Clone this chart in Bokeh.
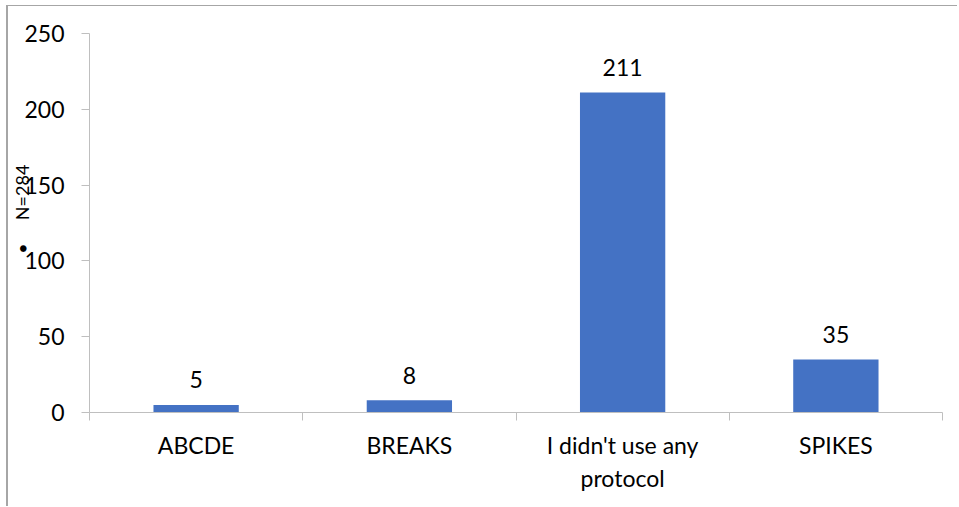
from bokeh.plotting import figure
from bokeh.models import Range1d, FixedTicker
from bokeh.core.properties import value
from bokeh.embed import file_html
from bokeh.resources import INLINE

# Survey responses: which protocol was used (N=284)
categories = ["ABCDE", "BREAKS", "I didn't use any\nprotocol", "SPIKES"]
counts = [5, 8, 211, 35]
y_ticks = [0, 50, 100, 150, 200, 250]
sample_label = "N=284"

FONT = "Lato"
BAR_COLOR = "#4472C4"
AXIS_COLOR = "#BFBFBF"
TEXT_COLOR = "#000000"
NBSP = "\u00a0"

centers = [i + 0.5 for i in range(len(categories))]
bounds = [float(i) for i in range(len(categories) + 1)]

p = figure(
    width=951, height=501,
    x_range=Range1d(0, len(categories)),
    y_range=Range1d(0, 250),
    output_backend="svg",
    toolbar_location=None,
    min_border_left=81, min_border_right=17,
    min_border_top=27, min_border_bottom=95,
)
p.margin = (5, 0, 0, 6)
p.styles = {
    "border-left": "2px solid #A6A6A6",
    "border-top": "1px solid #A6A6A6",
}
p.outline_line_color = None
p.xgrid.grid_line_color = None
p.ygrid.grid_line_color = None
p.background_fill_color = "white"
p.border_fill_color = "white"

p.vbar(x=centers, top=counts, width=0.4, fill_color=BAR_COLOR, line_color=None)

p.text(
    x=centers, y=counts, text=[str(c) for c in counts],
    text_align="center", text_baseline="alphabetic", y_offset=-25,
    text_font=value(FONT), text_font_size="23px", text_color=TEXT_COLOR,
)

# x axis: category names centred, tick marks on the category boundaries
xa = p.xaxis[0]
xa.ticker = FixedTicker(ticks=centers, minor_ticks=bounds)
xa.major_label_overrides = {c: name for c, name in zip(centers, categories)}
xa.major_tick_line_color = None
xa.major_tick_out = 0
xa.major_tick_in = 0
xa.minor_tick_line_color = AXIS_COLOR
xa.minor_tick_out = 8
xa.minor_tick_in = 0
xa.axis_line_color = AXIS_COLOR
xa.major_label_standoff = 10
xa.major_label_text_font = FONT
xa.major_label_text_font_size = "23px"
xa.major_label_text_color = TEXT_COLOR

ya = p.yaxis[0]
ya.ticker = FixedTicker(ticks=y_ticks, minor_ticks=[])
ya.axis_line_color = AXIS_COLOR
ya.major_tick_line_color = AXIS_COLOR
ya.major_tick_out = 8
ya.major_tick_in = 0
ya.minor_tick_line_color = None
ya.major_label_standoff = 17
ya.major_label_text_font = FONT
ya.major_label_text_font_size = "23px"
ya.major_label_text_color = TEXT_COLOR

# rotated sample-size note beside the y axis, led by a bullet
ya.axis_label = NBSP * 6 + "\u2022" + NBSP * 5 + sample_label
ya.axis_label_standoff = -12
ya.axis_label_text_font = FONT
ya.axis_label_text_font_size = "18px"
ya.axis_label_text_font_style = "normal"
ya.axis_label_text_color = TEXT_COLOR

open("out.html", "w").write(file_html(p, INLINE))
